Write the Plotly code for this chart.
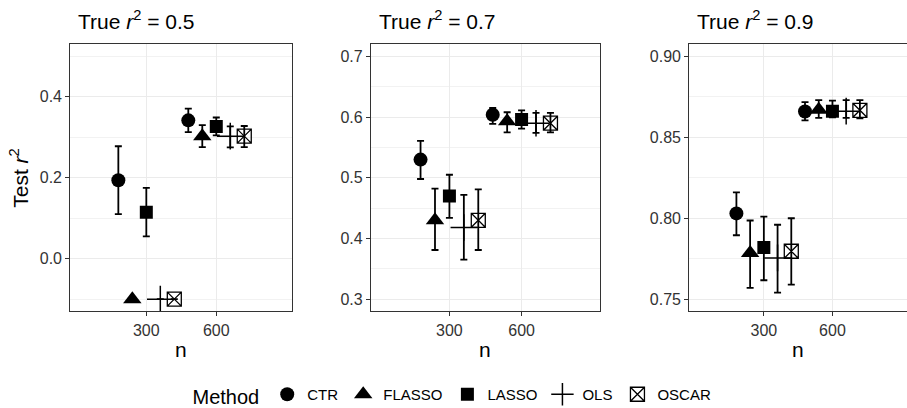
import plotly.graph_objects as go
import math

NAN = float("nan")

# ---------------- data ----------------
methods = ["CTR", "FLASSO", "LASSO", "OLS", "OSCAR"]
n_values = [300, 600]
true_r2 = ["0.5", "0.7", "0.9"]

# panel: True r^2 = 0.5
p05_mean = {"CTR": [0.194, 0.342], "FLASSO": [-0.100, 0.303], "LASSO": [0.115, 0.327],
            "OLS": [-0.100, 0.303], "OSCAR": [-0.100, 0.303]}
p05_lo = {"CTR": [0.110, 0.313], "FLASSO": [NAN, 0.276], "LASSO": [0.055, 0.305],
          "OLS": [NAN, 0.275], "OSCAR": [NAN, 0.276]}
p05_hi = {"CTR": [0.278, 0.371], "FLASSO": [NAN, 0.330], "LASSO": [0.175, 0.349],
          "OLS": [NAN, 0.327], "OSCAR": [NAN, 0.328]}

# panel: True r^2 = 0.7
p07_mean = {"CTR": [0.530, 0.604], "FLASSO": [0.430, 0.593], "LASSO": [0.470, 0.596],
            "OLS": [0.418, 0.590], "OSCAR": [0.430, 0.590]}
p07_lo = {"CTR": [0.498, 0.589], "FLASSO": [0.381, 0.575], "LASSO": [0.434, 0.581],
          "OLS": [0.365, 0.574], "OSCAR": [0.381, 0.575]}
p07_hi = {"CTR": [0.561, 0.615], "FLASSO": [0.482, 0.608], "LASSO": [0.505, 0.611],
          "OLS": [0.472, 0.607], "OSCAR": [0.481, 0.607]}

# panel: True r^2 = 0.9
p09_mean = {"CTR": [0.8030, 0.8660], "FLASSO": [0.7786, 0.8670], "LASSO": [0.7820, 0.8662],
            "OLS": [0.7755, 0.8662], "OSCAR": [0.7796, 0.8667]}
p09_lo = {"CTR": [0.7895, 0.8605], "FLASSO": [0.7570, 0.8620], "LASSO": [0.7617, 0.8623],
          "OLS": [0.7540, 0.8620], "OSCAR": [0.7590, 0.8617]}
p09_hi = {"CTR": [0.8160, 0.8718], "FLASSO": [0.7986, 0.8730], "LASSO": [0.8010, 0.8727],
          "OLS": [0.7960, 0.8730], "OSCAR": [0.8000, 0.8730]}

y_ticks = [[0.0, 0.2, 0.4], [0.3, 0.4, 0.5, 0.6, 0.7], [0.75, 0.80, 0.85, 0.90]]
y_ticktext = [["0.0", "0.2", "0.4"], ["0.3", "0.4", "0.5", "0.6", "0.7"],
              ["0.75", "0.80", "0.85", "0.90"]]
y_limits = [[-0.1, 0.5], [0.3, 0.7], [0.75, 0.9]]
x_ticks = [300, 600]

# ---------------- style ----------------
W, H = 907, 408
FONT = "Liberation Sans, Arial, Helvetica, sans-serif"
DODGE = {"CTR": -120, "FLASSO": -60, "LASSO": 0, "OLS": 60, "OSCAR": 120}
SYMBOL = {"CTR": "circle", "FLASSO": "triangle-up", "LASSO": "square",
          "OLS": "cross-thin-open", "OSCAR": "square-x-open"}
SIZE = {"CTR": 14, "FLASSO": 16, "LASSO": 13, "OLS": 19, "OSCAR": 14}
LINEW = {"CTR": 0, "FLASSO": 0, "LASSO": 0, "OLS": 1.5, "OSCAR": 1.3}

panels_px = [(70.3, 292.3), (371.0, 600.0), (689.3, 907.0)]
top_px, bot_px = 44.3, 311.3
ydom = [(H - bot_px) / H, (H - top_px) / H]
xrange_ = [-26, 926]

data = [(p05_mean, p05_lo, p05_hi), (p07_mean, p07_lo, p07_hi), (p09_mean, p09_lo, p09_hi)]

fig = go.Figure()
for pi, (mean, lo, hi) in enumerate(data):
    xa = "x" if pi == 0 else f"x{pi+1}"
    ya = "y" if pi == 0 else f"y{pi+1}"
    for m in methods:
        xs = [n + DODGE[m] for n in n_values]
        ys = mean[m]
        plus = [h - y if not math.isnan(h) else NAN for h, y in zip(hi[m], ys)]
        minus = [y - l if not math.isnan(l) else NAN for l, y in zip(lo[m], ys)]
        fig.add_trace(go.Scatter(
            x=xs, y=ys, mode="markers", name=m, xaxis=xa, yaxis=ya,
            legendgroup=m, showlegend=(pi == 0),
            marker=dict(symbol=SYMBOL[m], size=SIZE[m], color="black",
                        line=dict(color="black", width=LINEW[m])),
            error_y=dict(type="data", symmetric=False, array=plus, arrayminus=minus,
                         color="black", thickness=1.8, width=3.5),
        ))

common_axis = dict(
    automargin=False,
    showline=True, linecolor="#333333", linewidth=1.2,
    ticks="outside", ticklen=4, tickwidth=1.1, tickcolor="#333333",
    tickfont=dict(family=FONT, size=16, color="#333333"),
    showgrid=True, gridcolor="#EBEBEB", gridwidth=1.1, zeroline=False,
)

layout = dict(
    template="none",
    width=W, height=H, margin=dict(l=0, r=0, t=0, b=0, autoexpand=False),
    paper_bgcolor="white", plot_bgcolor="white",
    font=dict(family=FONT, color="black"),
    showlegend=True,
    legend=dict(orientation="h", x=0.5, xanchor="center", y=(H - 396) / H, yanchor="middle",
                title=dict(text="Method", font=dict(size=20, family=FONT, color="black"), side="left"),
                font=dict(size=15, family=FONT, color="black"),
                itemwidth=30, tracegroupgap=0, bgcolor="rgba(0,0,0,0)"),
)

for pi in range(3):
    xk = "xaxis" if pi == 0 else f"xaxis{pi+1}"
    yk = "yaxis" if pi == 0 else f"yaxis{pi+1}"
    xa_anchor = "y" if pi == 0 else f"y{pi+1}"
    ya_anchor = "x" if pi == 0 else f"x{pi+1}"
    lo_, hi_ = y_limits[pi]
    ext = 0.05 * (hi_ - lo_)
    ylo, yhi = lo_ - ext, hi_ + ext
    tv = y_ticks[pi]
    step = tv[1] - tv[0]
    layout[xk] = dict(common_axis, domain=[panels_px[pi][0] / W, panels_px[pi][1] / W],
                      anchor=xa_anchor, range=xrange_, tickvals=x_ticks,
                      ticktext=[str(v) for v in x_ticks], mirror=True)
    layout[yk] = dict(common_axis, domain=ydom, anchor=ya_anchor, range=[ylo, yhi],
                      tickvals=tv, ticktext=y_ticktext[pi], mirror=(pi < 2),
                      minor=dict(tick0=tv[0] - step / 2, dtick=step, showgrid=True,
                                 gridcolor="#F2F2F2", gridwidth=0.6, ticks=""))

fig.update_layout(**layout)

annotations = []
for pi, lbl in enumerate(true_r2):
    annotations.append(dict(
        text=f"True <i>r</i><sup>2</sup> = {lbl}", x=(panels_px[pi][0] + 6) / W, y=(H - 5) / H,
        xref="paper", yref="paper", xanchor="left", yanchor="top", showarrow=False,
        font=dict(family=FONT, size=21, color="black")))
    annotations.append(dict(
        text="n", x=(panels_px[pi][0] + panels_px[pi][1]) / 2 / W, y=(H - 349) / H,
        xref="paper", yref="paper", xanchor="center", yanchor="middle", showarrow=False,
        font=dict(family=FONT, size=21, color="black")))
annotations.append(dict(
    text="Test <i>r</i><sup>2</sup>", x=19 / W, y=(H - (top_px + bot_px) / 2) / H,
    xref="paper", yref="paper", xanchor="center", yanchor="middle", textangle=-90,
    showarrow=False, font=dict(family=FONT, size=21, color="black")))
fig.update_layout(annotations=annotations)

fig.write_html("out.html", config={"displayModeBar": False},
               post_script="document.body.style.margin='0';document.body.style.overflow='hidden';")
